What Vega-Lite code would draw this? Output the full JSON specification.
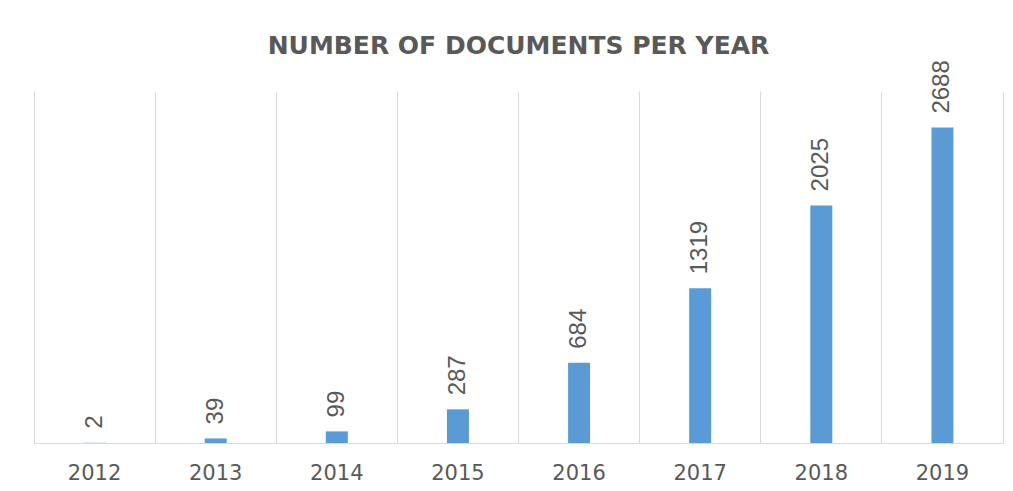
{
  "$schema": "https://vega.github.io/schema/vega-lite/v6.json",
  "autosize": {"type": "none"},
  "width": 969,
  "height": 352,
  "padding": {"left": 34, "top": 91, "right": 10, "bottom": 48},
  "background": "#ffffff",
  "title": {
    "text": "NUMBER OF DOCUMENTS PER YEAR",
    "font": "DejaVu Sans",
    "fontSize": 25,
    "fontWeight": "bold",
    "color": "#595959",
    "anchor": "middle",
    "offset": 0,
    "dy": -1
  },
  "data": {
    "values": [
      {"year": "2012", "documents": 2},
      {"year": "2013", "documents": 39},
      {"year": "2014", "documents": 99},
      {"year": "2015", "documents": 287},
      {"year": "2016", "documents": 684},
      {"year": "2017", "documents": 1319},
      {"year": "2018", "documents": 2025},
      {"year": "2019", "documents": 2688}
    ]
  },
  "encoding": {
    "x": {
      "field": "year",
      "type": "nominal",
      "sort": null,
      "scale": {"paddingInner": 0, "paddingOuter": 0},
      "axis": {
        "title": null,
        "labelAngle": 0,
        "labelFont": "DejaVu Sans",
        "labelFontSize": 21,
        "labelColor": "#595959",
        "labelPadding": 19,
        "ticks": false,
        "domain": true,
        "domainColor": "#d9d9d9",
        "domainWidth": 1,
        "grid": true,
        "gridColor": "#d9d9d9",
        "gridWidth": 1,
        "bandPosition": 0
      }
    },
    "y": {
      "field": "documents",
      "type": "quantitative",
      "scale": {"domain": [0, 3000]},
      "axis": {
        "orient": "right",
        "title": null,
        "labels": false,
        "ticks": false,
        "grid": false,
        "domain": true,
        "domainColor": "#d9d9d9",
        "domainWidth": 1
      }
    }
  },
  "layer": [
    {"mark": {"type": "bar", "color": "#5B9BD5", "size": 22}},
    {
      "mark": {
        "type": "text",
        "angle": -90,
        "align": "left",
        "baseline": "middle",
        "dx": 14,
        "font": "Liberation Sans",
        "fontSize": 24,
        "color": "#595959"
      },
      "encoding": {"text": {"field": "documents", "type": "quantitative"}}
    }
  ],
  "config": {"view": {"stroke": null}}
}
